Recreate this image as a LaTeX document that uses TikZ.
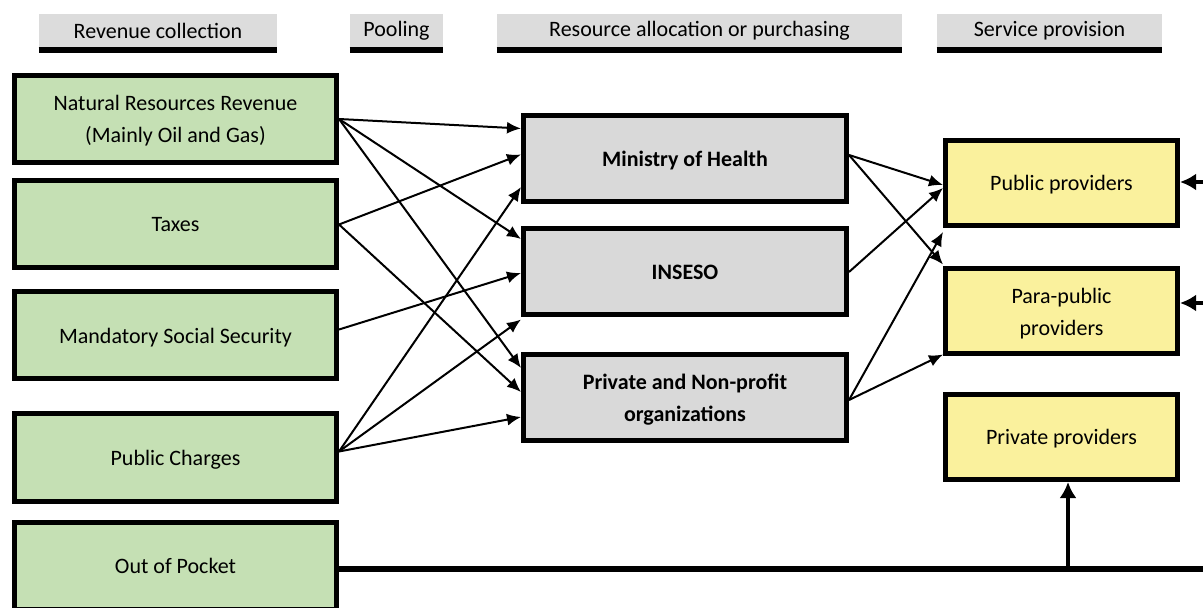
\documentclass[tikz,border=0pt]{standalone}
\usepackage{fontspec}
\setmainfont{Carlito}
\usetikzlibrary{arrows.meta}

\definecolor{hdrgray}{HTML}{DCDCDC}
\definecolor{revgreen}{HTML}{C5E0B4}
\definecolor{poolgray}{HTML}{D9D9D9}
\definecolor{provyellow}{HTML}{FAF19D}

\tikzset{
  hdr/.style = {fill=hdrgray, minimum height=16.5pt, inner sep=0pt},
  hdrbar/.style = {line width=3pt},
  box/.style = {draw, line width=2.5pt, align=center, inner sep=2pt,
                text depth=0pt, minimum height=43.5pt},
  srcbox/.style = {box, fill=revgreen, minimum width=161pt},
  poolbox/.style = {box, fill=poolgray, minimum width=161.5pt, minimum height=43pt,
                    font=\fontsize{11}{16}\selectfont\bfseries},
  provbox/.style = {box, fill=provyellow, minimum width=116pt, minimum height=42.5pt},
  flow/.style = {-{Latex[length=7pt,width=6pt]}, line width=1pt},
  bigflow/.style = {-{Latex[length=8pt,width=8.5pt]}, line width=2.2pt},
}

\begin{document}
\begin{tikzpicture}[x=0.5pt, y=-0.5pt, font=\fontsize{11}{16}\selectfont]
  \clip (0,0) rectangle (1203,608);
  \fill[white] (0,0) rectangle (1203,608);

  % column headings
  \node[hdr, minimum width=119pt]   (hrev)  at (158,30.5)   {Revenue collection};
  \node[hdr, minimum width=46.5pt]  (hpool) at (396.5,30.5) {Pooling};
  \node[hdr, minimum width=202.5pt] (hres)  at (699.5,30.5) {Resource allocation or purchasing};
  \node[hdr, minimum width=112.5pt] (hserv) at (1049.5,30.5) {Service provision};
  \foreach \h in {hrev,hpool,hres,hserv}
    \draw[hdrbar] ([yshift=-1.5pt]\h.south west) -- ([yshift=-1.5pt]\h.south east);

  % revenue sources
  \node[srcbox] (nrr) at (175.5,119)   {Natural Resources Revenue\\(Mainly Oil and Gas)};
  \node[srcbox] (tax) at (175.5,224.5) {Taxes};
  \node[srcbox] (mss) at (175.5,335.5) {Mandatory Social Security};
  \node[srcbox] (pch) at (175.5,457.5) {Public Charges};
  \node[srcbox] (oop) at (175.5,566)   {Out of Pocket};

  % pools / purchasers
  \node[poolbox] (moh) at (685,158.5) {Ministry of Health};
  \node[poolbox] (ins) at (685,272)   {INSESO};
  \node[poolbox] (pno) at (685,397.5) {Private and Non-profit\\organizations};

  % providers
  \node[provbox] (pub) at (1061.5,183)   {Public providers};
  \node[provbox] (para) at (1061.5,311.5) {Para-public\\providers};
  \node[provbox] (prv) at (1061.5,437)   {Private providers};

  % revenue -> pools
  \draw[flow] (nrr.east) -- ([yshift=15pt]moh.west);
  \draw[flow] (nrr.east) -- ([yshift=16.5pt]ins.west);
  \draw[flow] (nrr.east) -- ([yshift=14.75pt]pno.west);
  \draw[flow] (tax.east) -- ([yshift=2pt]moh.west);
  \draw[flow] (tax.east) -- ([yshift=2.75pt]pno.west);
  \draw[flow] ([yshift=3pt]mss.east) -- ([yshift=-0.5pt]ins.west);
  \draw[flow] ([yshift=3pt]pch.east) -- ([yshift=-14.25pt]moh.west);
  \draw[flow] ([yshift=3pt]pch.east) -- ([yshift=-1pt]ins.south west);
  \draw[flow] ([yshift=3pt]pch.east) -- ([yshift=-9.75pt]pno.west);

  % pools -> providers
  \draw[flow] ([yshift=1.75pt]moh.east) -- ([yshift=-1pt]pub.west);
  \draw[flow] ([yshift=1.75pt]moh.east) -- ([yshift=1pt]para.north west);
  \draw[flow] (ins.east) -- ([yshift=-2.5pt]pub.west);
  \draw[flow] ([yshift=-1.25pt]pno.east) -- ([yshift=-2pt]pub.south west);
  \draw[flow] ([yshift=-1.25pt]pno.east) -- ([yshift=1pt]para.south west);

  % flows from outside the frame
  \coordinate (pubin)  at (1203,182);
  \coordinate (parain) at (1203,303);
  \coordinate (oopend) at (1203,568.5);
  \coordinate (ooptap) at (1068,568.5);
  \draw[bigflow] (pubin) -- (pub.east |- pubin);
  \draw[bigflow] (parain) -- (para.east |- parain);
  \draw[line width=3pt] (oop.east |- oopend) -- (oopend);
  \draw[bigflow] (ooptap) -- (ooptap |- prv.south);
\end{tikzpicture}
\end{document}
